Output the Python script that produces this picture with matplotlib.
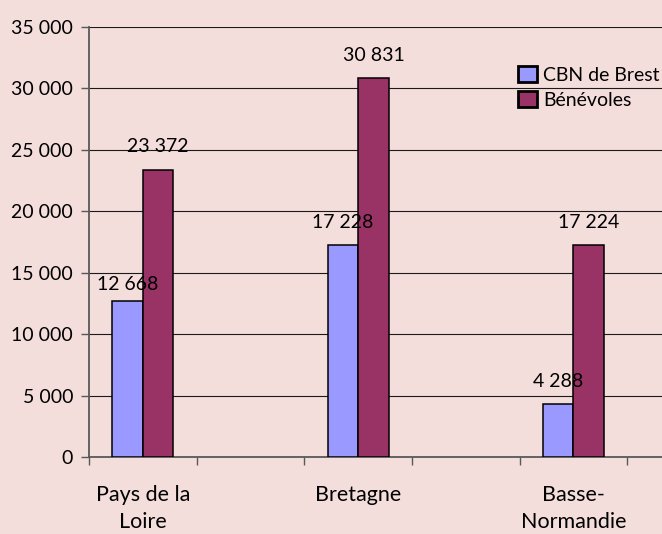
import numpy as np
import matplotlib
matplotlib.use("Agg")
import matplotlib.pyplot as plt
from matplotlib.ticker import FuncFormatter, FixedLocator

categories = ["Pays de la\nLoire", "Bretagne", "Basse-\nNormandie"]
series_names = ["CBN de Brest", "Bénévoles"]
cbn = [12668, 17228, 4288]
benevoles = [23372, 30831, 17224]
yticks = [0, 5000, 10000, 15000, 20000, 25000, 30000, 35000]

plt.rcParams['font.family'] = ['Lato', 'DejaVu Sans']
BG = '#f4dedc'
fig = plt.figure(figsize=(6.62, 5.34), dpi=100, facecolor=BG)
ax = fig.add_axes([89/662, 77/534, (735-89)/662, 430/534])
ax.set_facecolor(BG)

n = len(categories)
x = np.arange(n) * 2
w = 0.283
b1 = ax.bar(x - w/2, cbn, w, color='#9999ff', edgecolor='black', linewidth=1.1, label=series_names[0], zorder=3)
b2 = ax.bar(x + w/2, benevoles, w, color='#993366', edgecolor='black', linewidth=1.1, label=series_names[1], zorder=3)

def fmt(v):
    return f"{int(v):,}".replace(",", " ")

offsets = [8, 12.5, 12.5]
for i, (r, v) in enumerate(zip(b1, cbn)):
    ax.annotate(fmt(v), (r.get_x() + r.get_width()/2, v), xytext=(0, offsets[i]),
                textcoords='offset points', ha='center', va='baseline', fontsize=14, zorder=5)
for r, v in zip(b2, benevoles):
    ax.annotate(fmt(v), (r.get_x() + r.get_width()/2, v), xytext=(0, 12.5),
                textcoords='offset points', ha='center', va='baseline', fontsize=14, zorder=5)

ax.set_ylim(0, 35000)
ax.set_xlim(-0.5, 2*n - 0.5)
ax.yaxis.set_major_locator(FixedLocator(yticks))
ax.yaxis.set_major_formatter(FuncFormatter(lambda v, p: fmt(v)))
ax.grid(axis='y', color='#1a1a1a', linewidth=0.8, zorder=0)

ax.set_xticks(x)
ax.set_xticklabels(categories, fontsize=15.5, linespacing=1.45)
ax.set_xticks(np.arange(-0.5, 2*n, 1), minor=True)
ax.tick_params(axis='x', which='major', length=0, pad=20)
ax.tick_params(axis='x', which='minor', length=5.5, width=1.0, color='#595959', direction='out')
ax.tick_params(axis='y', length=5.5, width=1.0, color='#595959', labelsize=14, pad=6)

for s in ['top', 'right']:
    ax.spines[s].set_visible(False)
for s in ['left', 'bottom']:
    ax.spines[s].set_color('#595959')
    ax.spines[s].set_linewidth(1.3)

leg = fig.legend(loc='upper left', bbox_to_anchor=(518/662, 1 - 66/534), frameon=False,
                 fontsize=14, handlelength=1.0, handleheight=0.9, handletextpad=0.3,
                 labelspacing=0.38, borderpad=0, borderaxespad=0)
for h in leg.legend_handles:
    h.set_linewidth(2)

fig.savefig('out.png', dpi=100, facecolor=BG)
